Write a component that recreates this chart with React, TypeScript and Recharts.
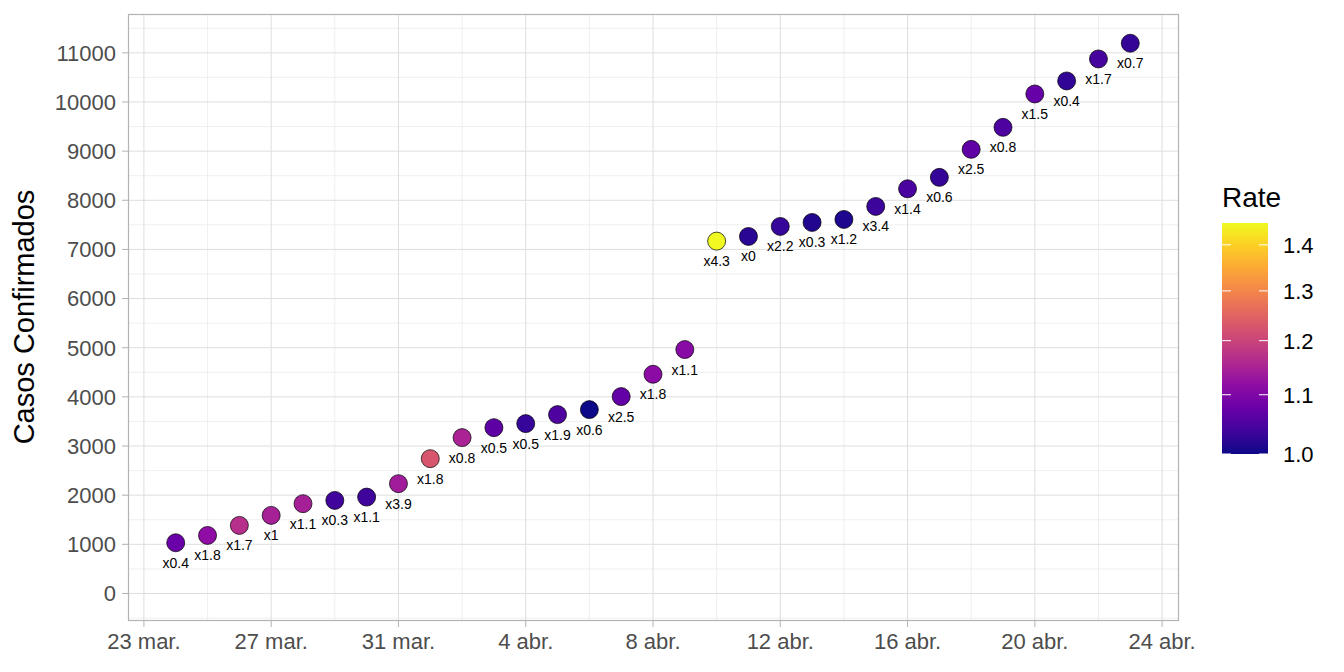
import { ScatterChart, Scatter, XAxis, YAxis, CartesianGrid } from "recharts";

const dayIndex = [1, 2, 3, 4, 5, 6, 7, 8, 9, 10, 11, 12, 13, 14, 15, 16, 17, 18, 19, 20, 21, 22, 23, 24, 25, 26, 27, 28, 29, 30, 31];
const cases = [1032, 1181, 1385, 1589, 1827, 1894, 1961, 2234, 2743, 3171, 3374, 3456, 3639, 3741, 4006, 4460, 4963, 7169, 7264, 7468, 7549, 7610, 7875, 8234, 8466, 9036, 9484, 10163, 10428, 10876, 11195];
const rates = [1.077, 1.118, 1.169, 1.147, 1.145, 1.038, 1.036, 1.139, 1.227, 1.15, 1.065, 1.03, 1.05, 1.0, 1.07, 1.113, 1.11, 1.45, 1.02, 1.03, 1.015, 1.012, 1.035, 1.046, 1.028, 1.067, 1.05, 1.072, 1.026, 1.043, 1.029];
const pointLabels = ["x0.4", "x1.8", "x1.7", "x1", "x1.1", "x0.3", "x1.1", "x3.9", "x1.8", "x0.8", "x0.5", "x0.5", "x1.9", "x0.6", "x2.5", "x1.8", "x1.1", "x4.3", "x0", "x2.2", "x0.3", "x1.2", "x3.4", "x1.4", "x0.6", "x2.5", "x0.8", "x1.5", "x0.4", "x1.7", "x0.7"];

const xTicks = [0, 4, 8, 12, 16, 20, 24, 28, 32];
const xTickLabels = ["23 mar.", "27 mar.", "31 mar.", "4 abr.", "8 abr.", "12 abr.", "16 abr.", "20 abr.", "24 abr."];
const xMinor = [2, 6, 10, 14, 18, 22, 26, 30];
const yTicks = [0, 1000, 2000, 3000, 4000, 5000, 6000, 7000, 8000, 9000, 10000, 11000];
const yMinor = [-500, 500, 1500, 2500, 3500, 4500, 5500, 6500, 7500, 8500, 9500, 10500, 11500];
const legendTicks = [1.0, 1.1, 1.2, 1.3, 1.4];

const FONT = "'Liberation Sans', Arial, sans-serif";

// plasma colour map stops
const PLASMA = ["#0d0887", "#41049d", "#6a00a8", "#8f0da4", "#b12a90", "#cc4778", "#e16462", "#f2844b", "#fca636", "#fcce25", "#f0f921"];

function hexToRgb(h: string) {
  const n = parseInt(h.slice(1), 16);
  return [(n >> 16) & 255, (n >> 8) & 255, n & 255];
}

function plasma(t: number) {
  const c = Math.max(0, Math.min(1, t)) * (PLASMA.length - 1);
  const i = Math.min(Math.floor(c), PLASMA.length - 2);
  const f = c - i;
  const a = hexToRgb(PLASMA[i]);
  const b = hexToRgb(PLASMA[i + 1]);
  const m = a.map((v, k) => Math.round(v + (b[k] - v) * f));
  return `rgb(${m[0]},${m[1]},${m[2]})`;
}

const rateMin = Math.min(...rates);
const rateMax = Math.max(...rates);
const rateT = (r: number) => (Math.log(r) - Math.log(rateMin)) / (Math.log(rateMax) - Math.log(rateMin));

const data = dayIndex.map((d, i) => ({
  day: d,
  cases: cases[i],
  rate: rates[i],
  label: pointLabels[i],
}));

const PointShape = (props: any) => {
  const { cx, cy, payload } = props;
  if (cx == null || cy == null) return null;
  return (
    <g>
      <circle cx={cx} cy={cy} r={9} fill={plasma(rateT(payload.rate))} stroke="#000" strokeWidth={0.7} />
      <text x={cx} y={cy + 25} textAnchor="middle" fontSize={14} fontFamily={FONT} fill="#000">
        {payload.label}
      </text>
    </g>
  );
};

// legend bar geometry
const barX = 1222;
const barW = 46;
const barTop = 223;
const barBottom = 454;
const legendY = (r: number) => barBottom - rateT(r) * (barBottom - barTop);

export default function App() {
  return (
    <div style={{ position: "absolute", left: 0, top: 0, width: 1344, height: 672, background: "#fff" }}>
      <ScatterChart width={1344} height={672} margin={{ top: 14, right: 166, bottom: 0, left: 0 }}>
        <CartesianGrid stroke="#ebebeb" strokeWidth={0.8} horizontalValues={yMinor} verticalValues={xMinor} />
        <CartesianGrid stroke="#dedede" strokeWidth={1} horizontalValues={yTicks} verticalValues={xTicks} />
        <XAxis
          type="number"
          dataKey="day"
          domain={[-0.5, 32.5]}
          ticks={xTicks}
          allowDataOverflow
          interval={0}
          tickFormatter={(v: number) => xTickLabels[xTicks.indexOf(v)]}
          axisLine={false}
          tickLine={{ stroke: "#b3b3b3" }}
          tickSize={6}
          tickMargin={6}
          height={51}
          tick={{ fill: "#4d4d4d", fontSize: 22, fontFamily: FONT }}
        />
        <YAxis
          type="number"
          dataKey="cases"
          domain={[-560, 11790]}
          ticks={yTicks}
          allowDataOverflow
          interval={0}
          axisLine={false}
          tickLine={{ stroke: "#b3b3b3" }}
          tickSize={6}
          tickMargin={6}
          width={128}
          tick={{ fill: "#4d4d4d", fontSize: 22, fontFamily: FONT }}
        />
        <Scatter data={data} shape={PointShape} isAnimationActive={false} />
      </ScatterChart>
      <svg width={1344} height={672} style={{ position: "absolute", left: 0, top: 0, pointerEvents: "none" }}>
        <rect x={128.5} y={14.5} width={1050} height={606} fill="none" stroke="#b3b3b3" strokeWidth={1.2} />
        <text
          x={0}
          y={0}
          transform="translate(34,317) rotate(-90)"
          textAnchor="middle"
          fontSize={29}
          fontFamily={FONT}
          fill="#000"
        >
          Casos Confirmados
        </text>
        <defs>
          <linearGradient id="plasmaGrad" x1="0" y1="1" x2="0" y2="0">
            {PLASMA.map((c, i) => (
              <stop key={i} offset={i / (PLASMA.length - 1)} stopColor={c} />
            ))}
          </linearGradient>
        </defs>
        <text x={1222} y={207} fontSize={28} fontFamily={FONT} fill="#000">
          Rate
        </text>
        <rect x={barX} y={barTop} width={barW} height={barBottom - barTop} fill="url(#plasmaGrad)" />
        {legendTicks.map((t) => {
          const y = legendY(t);
          return (
            <g key={t}>
              <line x1={barX} x2={barX + 9} y1={y} y2={y} stroke="#fff" strokeWidth={1} />
              <line x1={barX + barW - 9} x2={barX + barW} y1={y} y2={y} stroke="#fff" strokeWidth={1} />
              <text x={1283} y={y + 8} fontSize={22} fontFamily={FONT} fill="#000">
                {t.toFixed(1)}
              </text>
            </g>
          );
        })}
      </svg>
    </div>
  );
}
